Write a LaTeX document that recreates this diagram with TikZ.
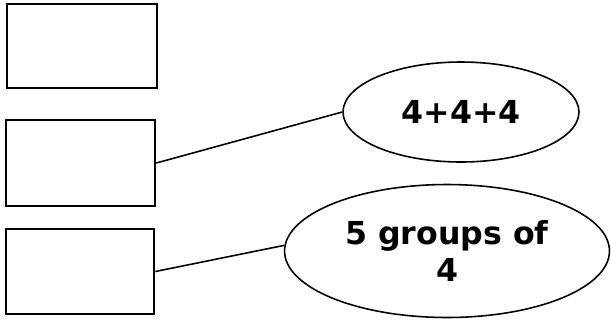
\documentclass[tikz,border=0pt]{standalone}
\usepackage{fontspec}
\setmainfont{DejaVu Sans}
\usetikzlibrary{shapes.geometric}
\begin{document}
\begin{tikzpicture}[
  x=0.02cm, y=-0.02cm,
  box/.style={rectangle, draw, line width=1.5pt, inner sep=0pt},
  bubble/.style={ellipse, draw, line width=0.9pt, inner sep=0pt, align=center,
    font=\fontsize{18}{21}\selectfont\bfseries},
  link/.style={line width=0.9pt}
]
\useasboundingbox (0,0) rectangle (611,322);

% Answer boxes
\node[box, minimum width=3cm, minimum height=1.68cm] (B1) at (82,46) {};
\node[box, minimum width=2.98cm, minimum height=1.72cm] (B2) at (80.5,163) {};
\node[box, minimum width=2.96cm, minimum height=1.7cm] (B3) at (80,271.5) {};

% Ellipses
\node[bubble, minimum width=4.72cm, minimum height=2cm] (E1) at (461,112) {4+4+4};
\node[bubble, minimum width=6.5cm, minimum height=2.66cm] (E2) at (447,251) {5 groups of\\4};

% Matching lines
\draw[link] (B2.east) -- (E1.west);
\draw[link] (B3.east) -- (E2.178);

\end{tikzpicture}
\end{document}
